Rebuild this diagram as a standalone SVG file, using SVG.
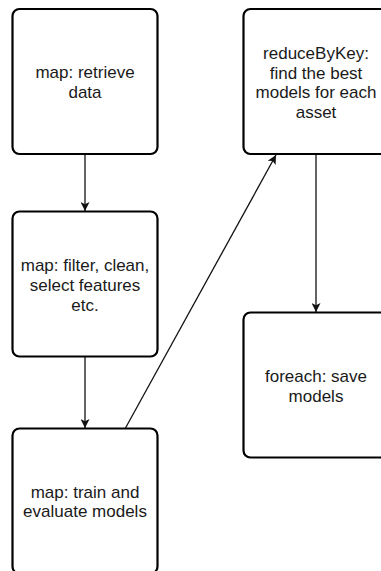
<svg xmlns="http://www.w3.org/2000/svg" width="381" height="571" viewBox="0 0 381 571">
  <defs>
    <marker id="arrow" viewBox="0 0 10 10" refX="10" refY="5" markerWidth="9" markerHeight="9" markerUnits="userSpaceOnUse" orient="auto">
      <path d="M0,0 L10,5 L0,10 L2.5,5 Z" fill="#111"/>
    </marker>
  </defs>
  <style>
    .box { fill: #fff; stroke: #000; stroke-width: 2.2; }
    .lbl { font-family: "Liberation Sans", Arial, Helvetica, sans-serif; font-size: 17px; fill: #1a1a1a; text-anchor: middle; }
    .edge { fill: none; stroke: #111; stroke-width: 1.3; marker-end: url(#arrow); }
  </style>
  <rect width="381" height="571" fill="#fff"/>

  <g id="connectors">
    <line class="edge" x1="85" y1="154" x2="85" y2="211"/>
    <line class="edge" x1="85" y1="356" x2="85" y2="428"/>
    <line class="edge" x1="125.5" y1="428" x2="276" y2="155"/>
    <line class="edge" x1="316" y1="154" x2="316" y2="312"/>
  </g>

  <g id="retrieve">
    <rect class="box" x="12.5" y="9" width="145" height="145" rx="7"/>
    <text class="lbl"><tspan x="85" y="78">map: retrieve</tspan><tspan x="85" y="98">data</tspan></text>
  </g>

  <g id="filter">
    <rect class="box" x="12.5" y="211.5" width="145" height="145" rx="7"/>
    <text class="lbl"><tspan x="85" y="271">map: filter, clean,</tspan><tspan x="85" y="291">select features</tspan><tspan x="85" y="311">etc.</tspan></text>
  </g>

  <g id="train">
    <rect class="box" x="12.5" y="428.5" width="145" height="145" rx="7"/>
    <text class="lbl"><tspan x="85" y="497.5">map: train and</tspan><tspan x="85" y="517">evaluate models</tspan></text>
  </g>

  <g id="reduce">
    <rect class="box" x="243.5" y="9" width="145" height="145" rx="7"/>
    <text class="lbl"><tspan x="316" y="59">reduceByKey:</tspan><tspan x="316" y="78.5">find the best</tspan><tspan x="316" y="98">models for each</tspan><tspan x="316" y="117.5">asset</tspan></text>
  </g>

  <g id="save">
    <rect class="box" x="243.5" y="312.5" width="145" height="145" rx="7"/>
    <text class="lbl"><tspan x="316" y="381.5">foreach: save</tspan><tspan x="316" y="401.5">models</tspan></text>
  </g>
</svg>
